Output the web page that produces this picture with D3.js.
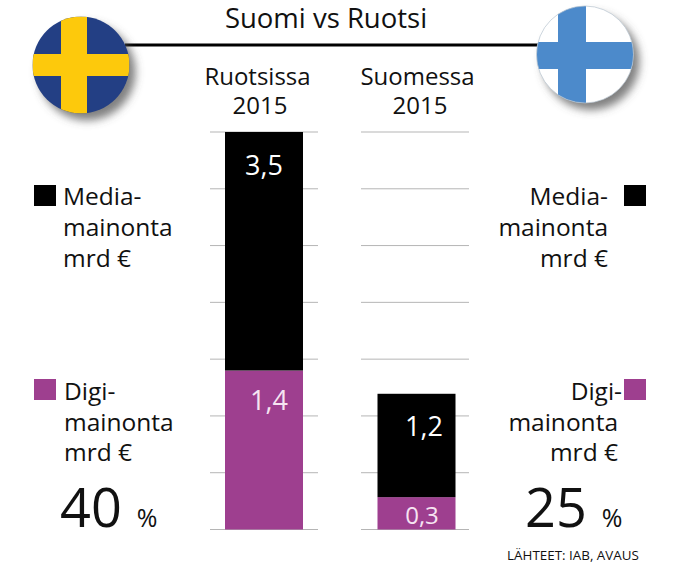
<!DOCTYPE html>
<html>
<head>
<meta charset="utf-8">
<script src="https://cdn.jsdelivr.net/npm/d3@7"></script>
<style>
  html, body { margin: 0; padding: 0; background: #fff; }
  text { font-family: "Open Sans", "Noto Sans", sans-serif; fill: #111; }
</style>
</head>
<body>
<div id="chart"></div>
<script>
const columns = ["Ruotsissa", "Suomessa"];
const columnYear = "2015";
const seriesNames = ["Digi", "Media"];
const seriesColors = ["#9e3f8f", "#000000"];

// printed values
const mediaLabels = ["3,5", "1,2"];
const digiLabels = ["1,4", "0,3"];

// the printed bars are not to scale with their labels, so the drawn
// heights are read from the picture, in grid steps
const mediaHeights = [4.2, 1.82];
const digiHeights = [2.8, 0.57];

const gridTicks = [0, 1, 2, 3, 4, 5, 6, 7];
const shares = ["40", "25"];

var width = 698, height = 564;

var svg = d3.select("#chart").append("svg")
  .attr("width", width)
  .attr("height", height)
  .style("display", "block");

var defs = svg.append("defs");
var blur = defs.append("filter").attr("id", "shadow")
  .attr("x", "-30%").attr("y", "-30%").attr("width", "160%").attr("height", "160%");
blur.append("feGaussianBlur").attr("stdDeviation", 4);

var y = d3.scaleLinear().domain([0, 7]).range([529.5, 132]);

var barX = { "Ruotsissa": 225, "Suomessa": 377.5 };
var barW = 78;

// Grid
columns.forEach(function(c) {
  var g = svg.append("g");
  var left = c == "Ruotsissa" ? 210 : 361;
  g.selectAll("line").data(gridTicks).enter().append("line")
    .attr("x1", left)
    .attr("x2", left + 108)
    .attr("y1", function(d) { return y(d); })
    .attr("y2", function(d) { return y(d); })
    .attr("stroke", "#b5b5b5")
    .attr("stroke-width", 1);
});

// Stacked bars
var rows = columns.map(function(c, i) {
  return { column: c, Digi: digiHeights[i], Media: mediaHeights[i] };
});
var stacked = d3.stack().keys(seriesNames)(rows);

svg.selectAll("g.series").data(stacked).enter().append("g")
  .attr("class", "series")
  .attr("fill", function(d, i) { return seriesColors[i]; })
  .selectAll("rect").data(function(d) { return d; }).enter().append("rect")
  .attr("x", function(d) { return barX[d.data.column]; })
  .attr("width", barW)
  .attr("y", function(d) { return y(d[1]); })
  .attr("height", function(d) { return y(d[0]) - y(d[1]); });

// Value labels
var valueLabels = [
  { t: mediaLabels[0], x: 264, y: 175, s: 27 },
  { t: digiLabels[0], x: 269, y: 410, s: 27 },
  { t: mediaLabels[1], x: 424, y: 436, s: 27 },
  { t: digiLabels[1], x: 422, y: 524, s: 24 }
];
svg.selectAll("text.value").data(valueLabels).enter().append("text")
  .attr("class", "value")
  .attr("x", function(d) { return d.x; })
  .attr("y", function(d) { return d.y; })
  .attr("text-anchor", "middle")
  .style("font-size", function(d) { return d.s + "px"; })
  .style("fill", function(d, i) { return i % 2 ? "#f6e4f2" : "#fff"; })
  .text(function(d) { return d.t; });

function addText(t, px, py, size, anchor) {
  return svg.append("text")
    .attr("x", px).attr("y", py)
    .attr("text-anchor", anchor || "middle")
    .style("font-size", size + "px")
    .text(t);
}

// Heading line and title
svg.append("line")
  .attr("x1", 125).attr("x2", 540)
  .attr("y1", 45).attr("y2", 45)
  .attr("stroke", "#000").attr("stroke-width", 3);

addText("Suomi vs Ruotsi", 326, 28, 27.5);

// Column heads
addText(columns[0], 257.5, 85, 24);
addText(columnYear, 260, 114, 24);
addText(columns[1], 417.5, 85, 24);
addText(columnYear, 420, 114, 24);

// Flags
function flag(cx, cy, r, bg, cross, vx, vw, hy, hh, id, border) {
  svg.append("circle")
    .attr("cx", cx + 6).attr("cy", cy + 7).attr("r", r)
    .attr("fill", "#555").attr("fill-opacity", 0.75)
    .attr("filter", "url(#shadow)");
  defs.append("clipPath").attr("id", id).append("circle")
    .attr("cx", cx).attr("cy", cy).attr("r", r);
  var g = svg.append("g").attr("clip-path", "url(#" + id + ")");
  g.append("rect").attr("x", cx - r).attr("y", cy - r)
    .attr("width", 2 * r).attr("height", 2 * r).attr("fill", bg);
  g.append("rect").attr("x", vx).attr("y", cy - r)
    .attr("width", vw).attr("height", 2 * r).attr("fill", cross);
  g.append("rect").attr("x", cx - r).attr("y", hy)
    .attr("width", 2 * r).attr("height", hh).attr("fill", cross);
  if (border) {
    svg.append("circle").attr("cx", cx).attr("cy", cy).attr("r", r)
      .attr("fill", "none").attr("stroke", border).attr("stroke-width", 0.7);
  }
}
flag(81, 65, 48.5, "#233f84", "#fdc90c", 61, 26, 54, 22, "clip-se");
flag(585, 54.5, 48.5, "#ffffff", "#4c8acb", 558, 28, 42, 27, "clip-fi", "#b8c4d0");

// Side legends
svg.append("rect").attr("x", 34).attr("y", 185).attr("width", 22).attr("height", 21).attr("fill", seriesColors[1]);
svg.append("rect").attr("x", 34).attr("y", 379).attr("width", 22).attr("height", 21).attr("fill", seriesColors[0]);
svg.append("rect").attr("x", 624).attr("y", 185).attr("width", 22).attr("height", 21).attr("fill", seriesColors[1]);
svg.append("rect").attr("x", 624).attr("y", 379).attr("width", 22).attr("height", 21).attr("fill", seriesColors[0]);

addText("Media-", 63, 205, 24.5, "start");
addText("mainonta", 63, 236, 24.5, "start");
addText("mrd €", 63, 267, 24.5, "start");
addText("Digi-", 64, 400, 24.5, "start");
addText("mainonta", 64, 431, 24.5, "start");
addText("mrd €", 64, 461, 24.5, "start");

addText("Media-", 608, 205, 24.5, "end");
addText("mainonta", 608, 236, 24.5, "end");
addText("mrd €", 608, 267, 24.5, "end");
addText("Digi-", 622, 400, 24.5, "end");
addText("mainonta", 618, 431, 24.5, "end");
addText("mrd €", 618, 461, 24.5, "end");

// Shares
addText(shares[0], 91, 527, 54);
addText("%", 147, 527, 25);
addText(shares[1], 556, 527, 54);
addText("%", 612, 527, 25);

addText("LÄHTEET: IAB, AVAUS", 573, 560, 13.4);
</script>
</body>
</html>
